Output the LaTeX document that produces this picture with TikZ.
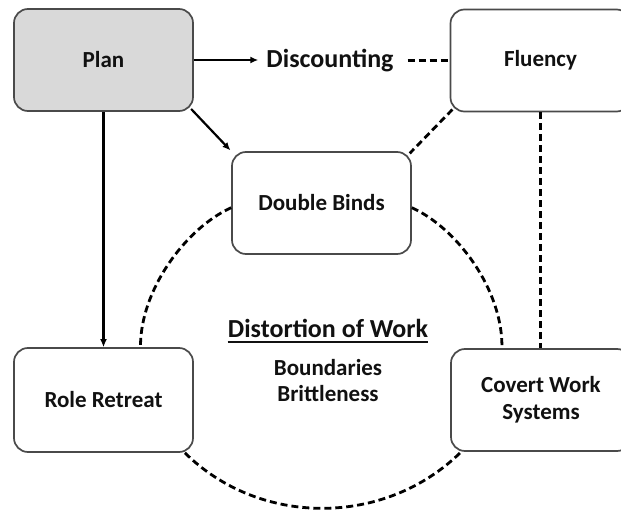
\documentclass[tikz,border=0pt]{standalone}
\usepackage{fontspec}
\setmainfont{Carlito}
\usetikzlibrary{arrows.meta}
\definecolor{boxline}{HTML}{4A4A4A}
\definecolor{planfill}{HTML}{D9D9D9}
\definecolor{ink}{HTML}{111111}
\tikzset{
  box/.style={draw=boxline, line width=1.7pt, rounded corners=14pt, minimum width=179pt, minimum height=102pt, inner sep=0pt, align=center, font=\fontsize{23}{27}\selectfont\bfseries, text=ink},
  arr/.style={-{Latex[length=8pt,width=7pt]}, line width=2.2pt, black},
  dsh/.style={line width=2.8pt, dash pattern=on 7pt off 4pt, black},
  big/.style={font=\fontsize{26}{30}\selectfont\bfseries, text=ink, inner sep=0pt},
  small/.style={font=\fontsize{23}{26}\selectfont\bfseries, text=ink, inner sep=0pt, align=center},
}
\begin{document}
\begin{tikzpicture}[x=1pt,y=-1pt]
\useasboundingbox[fill=white] (0,0) rectangle (621,513);
% boxes
\node[box, fill=planfill] (plan) at (103.5,60) {Plan};
\node[box, minimum width=180pt] (flu) at (540.5,60.5) {Fluency};
\node[box] (dbl) at (321.5,203) {Double Binds};
\node[box, minimum height=104pt] (role) at (103.5,400) {Role Retreat};
\node[box, minimum width=180pt] (cov) at (541,400) {Covert Work\\Systems};
% free texts
\node[big, inner xsep=8pt] (disc) at (330,61) {Discounting};
\node[big] (dist) at (328,328) {Distortion of Work};
\node[small] (bb) at (328,381) {Boundaries\\Brittleness};
\draw[line width=2.2pt, ink] ([yshift=-5pt]dist.base west) -- ([yshift=-5pt]dist.base east);
% solid arrows
\draw[arr] (plan.east) -- (plan.east -| disc.west);
\draw[arr, shorten <=-4pt, shorten >=1pt] (plan.south east) -- (dbl.north west);
\draw[arr] (plan.south) -- (role.north);
% dashed connectors
\draw[dsh, shorten <=6pt] (flu.west -| disc.east) -- (flu.west);
\draw[dsh, shorten <=-4pt, shorten >=-3pt] (flu.south west) -- (dbl.north east);
\draw[dsh] (flu.south) -- (flu.south |- cov.north);
\draw[dsh] (dbl.183) .. controls (186,228) and (140,290) .. (role.55);
\draw[dsh] (dbl.-3) .. controls (457,228) and (503,290) .. (cov.127);
\draw[dsh] (role.-33) .. controls (260,527) and (385,527) .. (cov.-147);
\end{tikzpicture}
\end{document}
